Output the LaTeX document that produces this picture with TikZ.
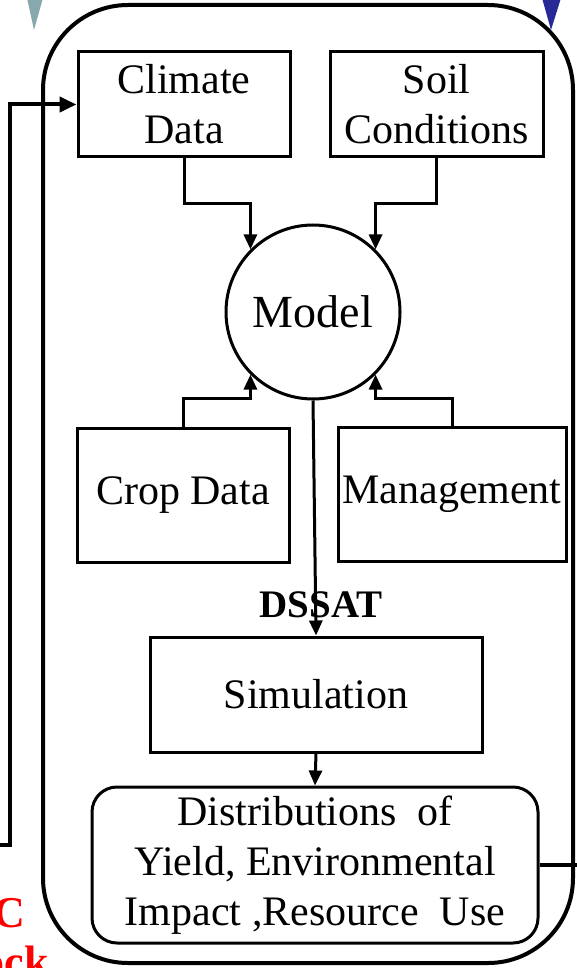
\documentclass[tikz,border=0pt]{standalone}
\usepackage{fontspec}
\setmainfont{Liberation Serif}
\usetikzlibrary{arrows.meta,calc}
\begin{document}
\begin{tikzpicture}[x=1pt,y=-1pt,
  txt/.style={font=\fontsize{42}{50}\selectfont},
  box/.style={draw,line width=3pt,inner sep=0pt,align=center,txt},
  link/.style={line width=3pt,-{Triangle[length=15pt,width=13pt]}},
  fb/.style={line width=4pt},
  fbarr/.style={line width=4pt,-{Triangle[length=17pt,width=15pt]}}]
\useasboundingbox (0,0) rectangle (577,968);
% decorations at top edge
\fill[fill={rgb,255:red,135;green,168;blue,172}] (27,-2) -- (43,-2) -- (34,30) -- cycle;
\fill[fill={rgb,255:red,40;green,40;blue,150}] (542,-2) -- (561,-2) -- (551,30) -- cycle;
% container
\draw[line width=4pt,rounded corners=85pt] (43,5) rectangle (573,963);
% nodes
\node[box,minimum width=212pt,minimum height=105pt] (clim) at (184,104.5) {Climate\\Data};
\node[box,minimum width=213pt,minimum height=105pt] (soil) at (436.5,104.5) {Soil\\Conditions};
\node[draw,circle,line width=3pt,minimum size=174pt,inner sep=0pt,font=\fontsize{46}{50}\selectfont] (model) at (313,312) {Model};
\node[box,minimum width=212pt,minimum height=134pt] (crop) at (183,495) {Crop Data};
\node[box,minimum width=228pt,minimum height=134pt] (mgmt) at (452,494) {Management};
\node[font=\fontsize{39}{40}\selectfont\bfseries] (dssat) at (321,605) {DSSAT};
\node[box,minimum width=332pt,minimum height=115pt] (sim) at (316,694.5) {Simulation};
\node[box,rounded corners=25pt,minimum width=446pt,minimum height=156pt] (dist) at (315,865)
  {Distributions\ \ of\\Yield, Environmental\\Impact ,Resource\ \ Use};
% red partial texts
\node[text=red,font=\fontsize{44}{44}\selectfont\bfseries,anchor=base east,inner sep=0pt] (redc) at (25,927) {C};
\node[text=red,font=\fontsize{44}{44}\selectfont\bfseries,anchor=base east,inner sep=0pt] (redock) at (49,976) {ock};
% connectors
\draw[link] (clim.south) -- ++(0,-0) |- ($(clim.south)+(0,45)$) -| (model.135);
\draw[link] (soil.south) -- ($(soil.south)+(0,45)$) -| (model.45);
\draw[link] (crop.north) -- ($(crop.north)+(0,-28)$) -| (model.225);
\draw[link] (mgmt.north) -- ($(mgmt.north)+(0,-27)$) -| (model.315);
\draw[link] (model.south) -- (sim.north);
\draw[link] (sim.south) -- (dist.north);
% feedback
\coordinate (fbR) at (580,865);
\coordinate (fbL) at (-4,845);
\coordinate (fbC) at (10,845);
\draw[fb] (dist.east) -- (fbR);
\draw[fbarr] (fbL) -- (fbC) |- (clim.west);
\end{tikzpicture}
\end{document}
